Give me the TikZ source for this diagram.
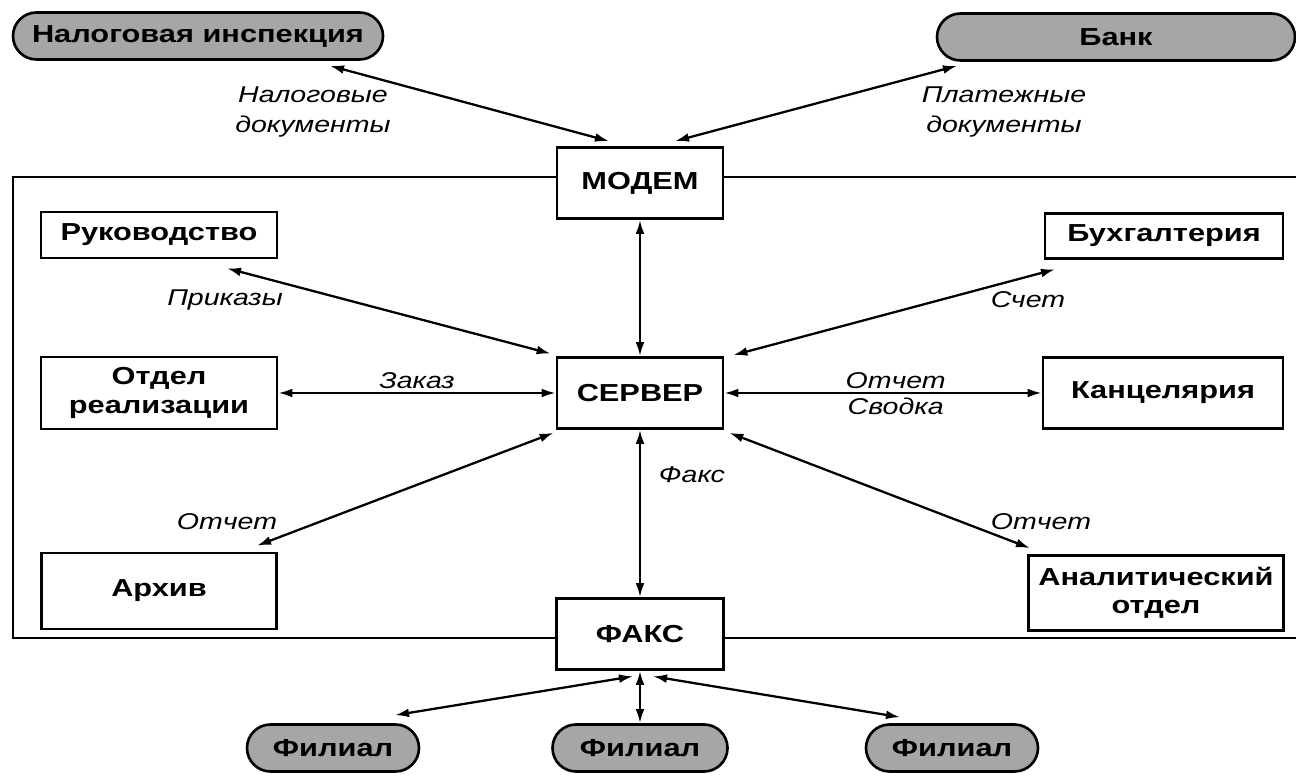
\documentclass[tikz,border=0pt]{standalone}
\usepackage{fontspec}
\setmainfont{Liberation Sans}[FakeStretch=1.25]
\usepackage{tikz}
\usetikzlibrary{arrows.meta, positioning}

\begin{document}
\begin{tikzpicture}[
    unit/.style={draw, line width=1.5pt, fill=white, align=center, inner sep=2pt, font=\fontsize{14}{16}\selectfont\bfseries},
    pill/.style={draw, line width=1.5pt, fill=black!35, rounded corners=0.47cm, minimum height=0.94cm, font=\fontsize{14}{16}\selectfont\bfseries},
    lbl/.style={font=\fontsize{13}{17}\selectfont\itshape, align=center, inner sep=1pt},
    arr/.style={{Latex[length=8pt,width=5pt]}-{Latex[length=8pt,width=5pt]}, line width=1.3pt}
]
\useasboundingbox (0,0) rectangle (25.92,15.5);

% office frame
\draw[line width=1.6pt] (25.92,11.96) -- (0.26,11.96) -- (0.26,2.74) -- (25.92,2.74);

% outside partners
\node[pill, minimum width=7.4cm] (nalog) at (3.96,14.78) {Налоговая инспекция};
\node[pill, minimum width=7.16cm] (bank) at (22.32,14.76) {Банк};

% central column
\node[unit, minimum width=3.32cm, minimum height=1.42cm] (modem) at (12.80,11.84) {МОДЕМ};
\node[unit, minimum width=3.32cm, minimum height=1.42cm] (server) at (12.80,7.64) {СЕРВЕР};
\node[unit, minimum width=3.34cm, minimum height=1.42cm] (fax) at (12.80,2.82) {ФАКС};

% departments
\node[unit, minimum width=4.72cm, minimum height=0.92cm] (ruk) at (3.18,10.80) {Руководство};
\node[unit, minimum width=4.72cm, minimum height=1.44cm] (otdel) at (3.18,7.64) {Отдел\\реализации};
\node[unit, minimum width=4.70cm, minimum height=1.52cm] (arch) at (3.18,3.68) {Архив};
\node[unit, minimum width=4.76cm, minimum height=0.90cm] (buh) at (23.28,10.78) {Бухгалтерия};
\node[unit, minimum width=4.80cm, minimum height=1.42cm] (kanc) at (23.26,7.64) {Канцелярия};
\node[unit, minimum width=5.10cm, minimum height=1.50cm] (anal) at (23.12,3.64) {Аналитический\\отдел};

% branches
\node[pill, minimum width=3.44cm] (fil1) at (6.66,0.54) {Филиал};
\node[pill, minimum width=3.50cm] (fil2) at (12.80,0.54) {Филиал};
\node[pill, minimum width=3.44cm] (fil3) at (19.04,0.54) {Филиал};

% links
\draw[arr] ([xshift=2.64cm,yshift=-0.1cm]nalog.south) -- ([xshift=-0.62cm,yshift=0.1cm]modem.north);
\draw[arr] ([xshift=-3.18cm,yshift=-0.08cm]bank.south) -- ([xshift=0.7cm,yshift=0.1cm]modem.north);
\draw[arr] (modem) -- (server);
\draw[arr] ([xshift=1.36cm,yshift=-0.18cm]ruk.south) -- ([xshift=-0.1cm,yshift=0.05cm]server.north west);
\draw[arr] ([xshift=-2.18cm,yshift=-0.19cm]buh.south) -- ([xshift=0.18cm,yshift=0.02cm]server.north east);
\draw[arr] (otdel) -- node[lbl, above=1pt] {Заказ} (server);
\draw[arr] (server) -- node[lbl, pos=0.54, above=1pt] {Отчет} node[lbl, pos=0.54, below=1pt] {Сводка} (kanc);
\draw[arr] ([xshift=1.96cm,yshift=0.12cm]arch.north) -- ([xshift=-0.04cm,yshift=-0.06cm]server.south west);
\draw[arr] ([xshift=-2.52cm,yshift=0.12cm]anal.north) -- ([xshift=0.1cm,yshift=-0.06cm]server.south east);
\draw[arr] (server) -- (fax);
\draw[arr] ([xshift=-0.14cm,yshift=-0.11cm]fax.south) -- ([xshift=1.24cm,yshift=0.16cm]fil1.north);
\draw[arr] (fax) -- (fil2);
\draw[arr] ([xshift=0.26cm,yshift=-0.11cm]fax.south) -- ([xshift=-1.04cm,yshift=0.12cm]fil3.north);

% link labels
\node[lbl] (lnalog) at (6.26,13.26) {Налоговые\\документы};
\node[lbl] (lbank) at (20.08,13.26) {Платежные\\документы};
\node[lbl] (lruk) at (4.50,9.50) {Приказы};
\node[lbl] (lbuh) at (20.56,9.50) {Счет};
\node[lbl] (larch) at (4.54,5.06) {Отчет};
\node[lbl] (lanal) at (20.82,5.06) {Отчет};
\node[lbl] (lfax) at (13.84,6.0) {Факс};
\end{tikzpicture}
\end{document}
